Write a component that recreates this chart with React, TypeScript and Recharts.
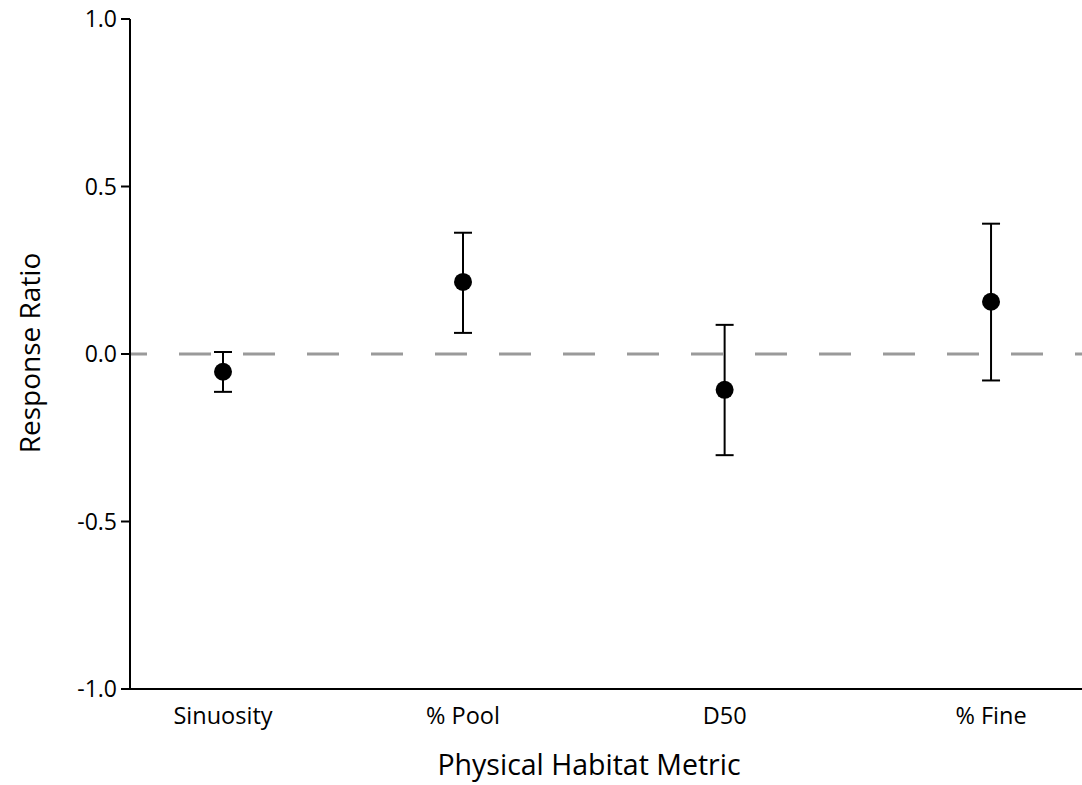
import { ScatterChart, Scatter, XAxis, YAxis, ErrorBar, ReferenceLine } from "recharts";

const metrics = ["Sinuosity", "% Pool", "D50", "% Fine"];
const metricPos = [1, 2, 3.09, 4.2];
const ratio = [-0.053, 0.215, -0.107, 0.156];
const lower = [-0.113, 0.063, -0.302, -0.079];
const upper = [0.006, 0.362, 0.087, 0.389];
const yTicks = [-1, -0.5, 0, 0.5, 1];

const data = metrics.map((name, i) => ({
  name,
  x: metricPos[i],
  y: ratio[i],
  err: [ratio[i] - lower[i], upper[i] - ratio[i]],
}));

const FONT = "'Open Sans', sans-serif";

const Dot = (p: any) => <circle cx={p.cx} cy={p.cy} r={9} fill="#000" />;

export default function App() {
  return (
    <div style={{ fontFamily: FONT, background: "#fff", width: 1082, height: 785 }}>
      <style>{"body{margin:0}"}</style>
      <ScatterChart width={1082} height={785} margin={{ top: 19, right: 0, bottom: 0, left: 0 }}>
        <XAxis
          type="number"
          dataKey="x"
          domain={[0.6125, 4.579]}
          ticks={metricPos}
          tickFormatter={(v) => metrics[metricPos.indexOf(v)] ?? ""}
          tickLine={false}
          tickMargin={12}
          height={96}
          axisLine={{ stroke: "#000", strokeWidth: 2 }}
          tick={{ fill: "#000", fontSize: 23.5, fontFamily: FONT }}
          label={{
            content: ({ viewBox }: any) => (
              <text
                x={viewBox.x + viewBox.width / 2 - 17}
                y={775}
                textAnchor="middle"
                fontSize={28.5}
                fontFamily={FONT}
                fill="#000"
              >
                Physical Habitat Metric
              </text>
            ),
          }}
        />
        <YAxis
          type="number"
          dataKey="y"
          domain={[-1, 1]}
          ticks={yTicks}
          tickFormatter={(v) => v.toFixed(1)}
          width={130}
          tickSize={9}
          tickMargin={4}
          axisLine={{ stroke: "#000", strokeWidth: 2 }}
          tickLine={{ stroke: "#000", strokeWidth: 2 }}
          tick={{ fill: "#000", fontSize: 23, fontFamily: FONT }}
          label={{
            content: ({ viewBox }: any) => {
              const cx = 29;
              const cy = viewBox.y + viewBox.height / 2 - 1;
              return (
                <text
                  x={cx}
                  y={cy}
                  transform={`rotate(-90, ${cx}, ${cy})`}
                  textAnchor="middle"
                  dominantBaseline="central"
                  fontSize={28}
                  fontFamily={FONT}
                  fill="#000"
                >
                  Response Ratio
                </text>
              );
            },
          }}
        />
        <ReferenceLine
          y={0}
          stroke="#9a9a9a"
          strokeWidth={3}
          strokeDasharray="32 32"
          strokeDashoffset={15}
        />
        <Scatter data={data} fill="#000" shape={Dot} isAnimationActive={false}>
          <ErrorBar dataKey="err" direction="y" width={9} stroke="#000" strokeWidth={2} />
        </Scatter>
      </ScatterChart>
    </div>
  );
}
